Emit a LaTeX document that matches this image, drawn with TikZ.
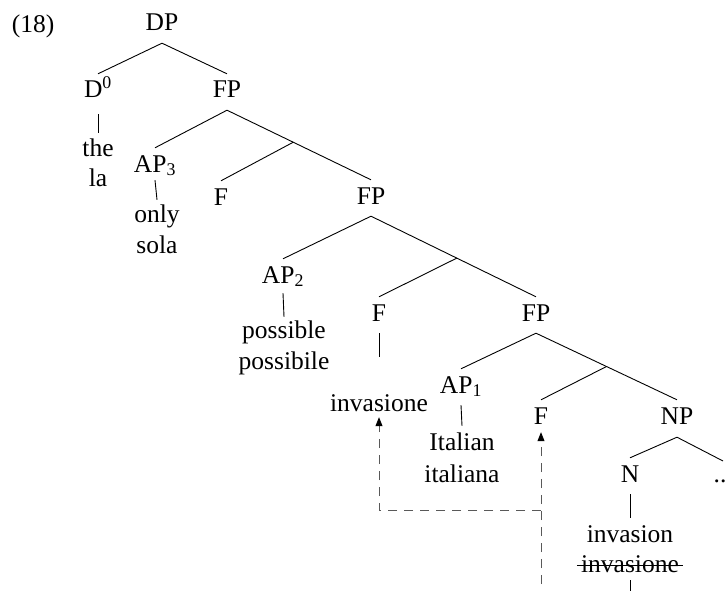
\documentclass[tikz,border=0pt]{standalone}
\usepackage{fontspec}
\setmainfont{Liberation Serif}
\usetikzlibrary{calc,arrows.meta}
\begin{document}
\begin{tikzpicture}[x=1pt,y=-1pt,
  tn/.style={anchor=base, inner xsep=0pt, inner ysep=8pt, text height=16pt, text depth=4pt,
    font=\fontsize{25.5}{30}\selectfont},
  edge/.style={draw=black, line width=0.9pt},
  mv/.style={draw=black!65, line width=0.9pt, dash pattern=on 9pt off 7pt},
  tip/.style={-{Triangle[length=9pt,width=7pt,fill=black,color=black]}}]
\useasboundingbox (0,0) rectangle (728,591);
\clip (0,0) rectangle (728,591);
% nodes
\node[tn] (ex) at (33,33) {(18)};
\node[tn] (DP) at (162,31) {DP};
\node[tn] (D0) at (98,98) {D\textsuperscript{0}};
\node[tn] (FPa) at (227,98) {FP};
\node[tn] (the) at (98,157) {the};
\node[tn] (la) at (98,186) {la};
\node[tn] (AP3) at (155,172) {AP\textsubscript{3}};
\node[tn] (only) at (157,222) {only};
\node[tn] (sola) at (157,253) {sola};
\node[tn] (Fa) at (221,205) {F};
\node[tn] (FPb) at (371,204) {FP};
\node[tn] (AP2) at (283,283) {AP\textsubscript{2}};
\node[tn] (possible) at (284,338) {possible};
\node[tn] (possibile) at (284,369) {possibile};
\node[tn] (Fb) at (379,321) {F};
\node[tn] (FPc) at (536,321) {FP};
\node[tn] (invmoved) at (379,411) {invasione};
\node[tn] (AP1) at (461,393) {AP\textsubscript{1}};
\node[tn] (Italian) at (462,450) {Italian};
\node[tn] (italiana) at (462,482) {italiana};
\node[tn] (Fc) at (541,424) {F};
\node[tn] (NP) at (677,424) {NP};
\node[tn] (N) at (630,482) {N};
\node[tn] (dots) at (720,482) {..};
\node[tn] (invasion) at (630,542) {invasion};
\node[tn] (invstruck) at (630,572) {invasione};
% strike-through
\draw[line width=0.9pt] ([xshift=-4pt,yshift=7pt]invstruck.base west) -- ([xshift=4pt,yshift=7pt]invstruck.base east);
% branch points
\coordinate (ba) at ($(FPa.south)!0.46!(FPb.north)$);
\coordinate (bb) at ($(FPb.south)!0.52!(FPc.north)$);
\coordinate (bc) at ($(FPc.south)!0.50!(NP.north)$);
\coordinate (dotstop) at (723,461);
\coordinate (Fbend) at (379,357);
\coordinate (Nlow) at (630,600);
\coordinate (movstart) at (541,600);
\coordinate (movbend) at (541,510);
% tree edges
\draw[edge] (DP.south) -- (D0.north);
\draw[edge] (DP.south) -- (FPa.north);
\draw[edge] ([yshift=-4pt]D0.south) -- (the.north);
\draw[edge] (FPa.south) -- (AP3.north);
\draw[edge] (FPa.south) -- (FPb.north);
\draw[edge] (ba) -- (Fa.north);
\draw[edge] ([yshift=4pt]AP3.south) -- ([yshift=-2pt]only.north);
\draw[edge] (FPb.south) -- (AP2.north);
\draw[edge] (FPb.south) -- (FPc.north);
\draw[edge] (bb) -- (Fb.north);
\draw[edge] ([yshift=2pt]AP2.south) -- ([yshift=-3pt]possible.north);
\draw[edge] (Fb.south) -- (Fbend);
\draw[edge] (FPc.south) -- (AP1.north);
\draw[edge] (FPc.south) -- (NP.north);
\draw[edge] (bc) -- (Fc.north);
\draw[edge] (AP1.south) -- (Italian.north);
\draw[edge] ([yshift=-1pt]NP.south) -- (N.north);
\draw[edge] ([yshift=-1pt]NP.south) -- (dotstop);
\draw[edge] (N.south) -- (invasion.north);
\draw[edge] ([yshift=4pt]invstruck.south) -- (Nlow);
% movement arrows
\draw[mv,tip] (movstart) -- ([yshift=4pt]Fc.south);
\draw[mv,tip] (movbend) -- (movbend -| invmoved) -- ([yshift=6pt]invmoved.south);
\end{tikzpicture}
\end{document}
